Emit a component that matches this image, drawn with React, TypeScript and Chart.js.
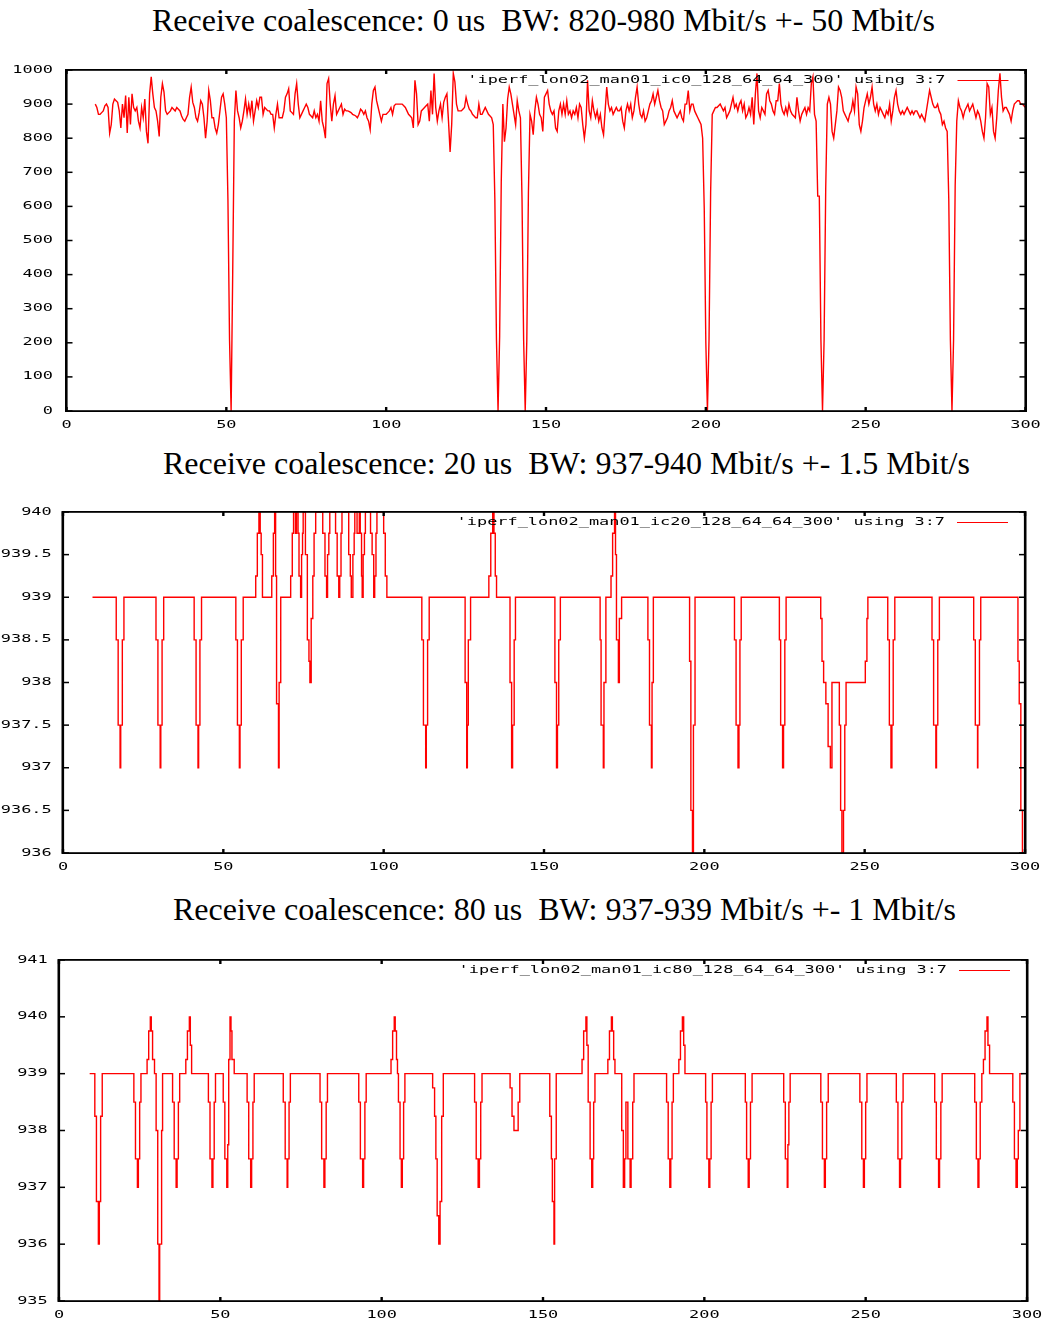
import React, { useEffect, useRef } from 'react';
import { Chart, registerables } from 'chart.js';

Chart.register(...registerables);

// ---------- shared axis ticks ----------
const X_TICKS = [0, 50, 100, 150, 200, 250, 300];
const X_LABELS = ['0', '50', '100', '150', '200', '250', '300'];

// ---------- panel 1: receive coalescence 0 us ----------
const IC0_TITLE = 'Receive coalescence: 0 us  BW: 820-980 Mbit/s +- 50 Mbit/s';
const IC0_LEGEND = "'iperf_lon02_man01_ic0_128_64_64_300' using 3:7";
const IC0_Y_TICKS = [0, 100, 200, 300, 400, 500, 600, 700, 800, 900, 1000];
const IC0_Y_LABELS = ['0', '100', '200', '300', '400', '500', '600', '700', '800', '900', '1000'];
const IC0_START = 9; // first sample time (s)
const IC0_STEP = 0.5; // sample spacing (s)
const IC0_VALUES = [
  900, 890, 870, 870, 875, 880, 895, 900, 890, 815,
  840, 900, 915, 910, 905, 880, 830, 900, 860, 925,
  815, 920, 840, 930, 890, 880, 890, 850, 830, 890,
  860, 915, 820, 785, 930, 980, 930, 890, 880, 850,
  805, 920, 960, 935, 880, 870, 875, 880, 890, 885,
  880, 890, 885, 880, 865, 855, 850, 860, 870, 920,
  950, 905, 890, 860, 850, 875, 910, 900, 860, 800,
  850, 940, 910, 860, 860, 830, 815, 840, 880, 920,
  930, 900, 860, 620, 210, 0, 410, 850, 940, 880,
  860, 830, 850, 880, 915, 870, 900, 870, 910, 850,
  880, 910, 890, 920, 920, 870, 890, 885, 880, 880,
  870, 870, 830, 870, 900, 860, 860, 860, 880, 920,
  930, 945, 880, 875, 870, 930, 960, 900, 860, 870,
  880, 890, 900, 890, 870, 865, 860, 880, 860, 870,
  850, 910, 850, 830, 800, 960, 975, 900, 850, 900,
  925, 870, 880, 890, 900, 870, 885, 880, 880, 878,
  875, 870, 868, 865, 860, 870, 885, 880, 870, 880,
  860, 850, 825, 900, 940, 950, 910, 890, 870, 850,
  870, 870, 870, 875, 880, 890, 870, 895, 900, 900,
  900, 900, 900, 895, 890, 880, 870, 865, 860, 830,
  970, 930, 840, 850, 880, 885, 890, 895, 900, 850,
  940, 870, 990, 890, 850, 880, 900, 860, 905, 920,
  930, 850, 760, 840, 990, 965, 900, 880, 880, 880,
  885, 890, 920, 900, 885, 880, 870, 865, 860, 860,
  900, 870, 870, 880, 890, 880, 870, 865, 860, 840,
  620, 210, 0, 220, 670, 900, 790, 830, 915, 950,
  930, 900, 870, 840, 910, 880, 860, 620, 210, 0,
  210, 640, 870, 850, 810, 880, 920, 900, 870, 860,
  820, 920, 930, 940, 900, 880, 870, 880, 830, 820,
  880, 900, 870, 900, 870, 910, 870, 880, 860, 880,
  870, 890, 860, 900, 890, 840, 800, 840, 970, 880,
  860, 910, 880, 860, 880, 850, 870, 830, 810, 880,
  950, 900, 880, 890, 870, 880, 890, 880, 880, 890,
  850, 830, 880, 900, 880, 900, 860, 880, 920, 950,
  900, 870, 860, 880, 850, 860, 880, 900, 910, 930,
  900, 920, 940, 910, 890, 880, 840, 850, 860, 880,
  890, 910, 880, 870, 860, 870, 880, 860, 850, 900,
  900, 940, 880, 900, 900, 880, 870, 860, 850, 840,
  800, 595, 200, 0, 210, 640, 870, 880, 890, 890,
  895, 900, 890, 880, 890, 860, 870, 880, 900, 920,
  890, 900, 880, 900, 910, 880, 900, 860, 870, 890,
  870, 920, 840, 930, 990, 880, 860, 890, 880, 870,
  930, 940, 910, 900, 880, 870, 910, 910, 960, 900,
  880, 870, 890, 870, 900, 880, 870, 865, 860, 920,
  880, 850, 870, 880, 890, 870, 890, 880, 960, 980,
  870, 850, 630, 630, 210, 0, 210, 650, 900, 920,
  900, 820, 800, 840, 880, 950, 940, 920, 880, 870,
  860, 850, 870, 880, 910, 880, 950, 930, 840, 820,
  850, 890, 910, 930, 900, 920, 950, 900, 880, 900,
  870, 890, 880, 870, 860, 880, 870, 900, 850, 880,
  920, 940, 900, 880, 870, 880, 870, 880, 890, 880,
  870, 880, 870, 880, 880, 870, 860, 870, 860, 850,
  880, 910, 940, 920, 900, 890, 890, 900, 880, 870,
  840, 850, 830, 820, 620, 210, 0, 210, 660, 850,
  910, 890, 880, 860, 880, 890, 900, 880, 890, 900,
  880, 860, 880, 870, 850, 820, 800, 860, 960, 950,
  870, 890, 820, 800, 860, 940, 990, 920, 880, 890,
  890, 880, 870, 850, 880, 900, 905, 910, 910, 900,
  900, 895, 890,
];

// ---------- panel 2: receive coalescence 20 us (value changes at given times) ----------
const IC20_TITLE = 'Receive coalescence: 20 us  BW: 937-940 Mbit/s +- 1.5 Mbit/s';
const IC20_LEGEND = "'iperf_lon02_man01_ic20_128_64_64_300' using 3:7";
const IC20_Y_TICKS = [936, 936.5, 937, 937.5, 938, 938.5, 939, 939.5, 940];
const IC20_Y_LABELS = ['936', '936.5', '937', '937.5', '938', '938.5', '939', '939.5', '940'];
const IC20_TIMES = [
  9.2,
  16.6, 17.2, 17.8, 18.0, 18.5, 19.0,
  29.0, 29.6, 30.3, 30.5, 30.9, 31.4,
  40.9, 41.5, 42.1, 42.3, 42.7, 43.2,
  53.9, 54.4, 55.0, 55.2, 55.6, 56.2,
  60.1, 60.6, 61.1, 61.5, 61.8, 62.2,
  65.1, 65.6, 66.0, 66.3, 66.6, 67.2, 67.4, 67.9,
  71.0, 71.5, 71.9, 72.5, 72.8, 73.3, 73.6, 74.1, 74.4, 74.7, 74.9,
  75.6, 76.2, 76.7, 77.0, 77.4, 77.9, 78.3, 78.8,
  81.0, 81.7, 82.2, 82.5, 82.9, 83.2,
  85.0, 85.5, 86.0, 86.3, 86.7, 87.0,
  89.1, 89.6, 89.9, 90.4, 90.8, 91.0, 91.7, 92.4, 92.7, 93.1, 93.3, 93.6, 94.0, 94.3,
  95.9, 96.4, 96.9, 97.2, 97.6, 97.9,
  100.0, 100.5, 101.0,
  111.9, 112.4, 113.1, 113.3, 113.7, 114.2,
  125.4, 125.9, 126.1, 126.4, 127.1,
  132.8, 133.4, 134.0, 134.4, 134.8, 135.2,
  139.4, 139.9, 140.2, 140.7, 141.1,
  153.4, 153.9, 154.2, 154.6, 155.1,
  167.5, 167.8, 168.5, 168.7, 169.3,
  170.9, 171.4, 172.0, 172.3, 172.6, 173.2, 173.5, 174.2,
  182.4, 182.9, 183.5, 183.7, 184.1,
  195.4, 195.8, 196.3, 196.6, 197.1,
  209.4, 209.9, 210.5, 210.8, 211.1, 211.5,
  223.4, 223.8, 224.4, 224.7, 225.1, 225.5,
  236.3, 236.7, 237.2, 237.9, 238.6, 239.3, 239.8,
  242.1, 242.5, 242.9, 243.4, 243.8, 244.2,
  250.2, 250.7, 251.0,
  257.2, 257.7, 258.2, 258.5, 258.9, 259.4,
  271.0, 271.5, 272.2, 272.4, 272.8, 273.3,
  284.0, 284.5, 285.2, 285.3, 285.8, 286.2,
  297.8, 298.2, 298.7, 299.2,
];
const IC20_VALUES = [
  939,
  938.5, 937.5, 937, 937.5, 938.5, 939,
  938.5, 937.5, 937, 937.5, 938.5, 939,
  938.5, 937.5, 937, 937.5, 938.5, 939,
  938.5, 937.5, 937, 937.5, 938.5, 939,
  939.25, 939.75, 940, 939.75, 939.5, 939,
  939.25, 939.75, 940, 939.25, 937.75, 937, 938, 939,
  939.25, 939.75, 940, 939.75, 940, 939.75, 939.25, 939, 939.5, 939.75, 940,
  939.5, 938.5, 938.25, 938, 938.75, 939.25, 939.75, 940,
  939.75, 939.25, 939, 939.5, 939.75, 940,
  939.75, 939.25, 939, 939.25, 939.75, 940,
  939.5, 939.25, 939, 939.5, 939.75, 940, 939.75, 940, 939.75, 939.25, 939, 939.5, 939.75, 940,
  939.75, 939.5, 939, 939.25, 939.75, 940,
  939.75, 939.25, 939,
  938.5, 937.5, 937, 937.5, 938.5, 939,
  938, 937, 937.5, 938.5, 939,
  939.25, 939.75, 940, 939.75, 939.25, 939,
  938, 937, 937.5, 938.5, 939,
  938, 937, 937.5, 938.5, 939,
  938.5, 937.5, 937, 938, 939,
  939.25, 939.75, 940, 939.5, 938.5, 938, 938.75, 939,
  938.5, 937.5, 937, 938, 939,
  938.25, 936.5, 936, 937.5, 939,
  938.5, 937.5, 937, 937.5, 938.5, 939,
  938.5, 937.5, 937, 937.5, 938.5, 939,
  938.75, 938.25, 938, 937.75, 937.25, 937, 938,
  937.5, 936.5, 936, 936.5, 937.5, 938,
  938.25, 938.75, 939,
  938.5, 937.5, 937, 937.5, 938.5, 939,
  938.5, 937.5, 937, 937.5, 938.5, 939,
  938.5, 937.5, 937, 937.5, 938.5, 939,
  938.25, 937.75, 936.5, 936,
];

// ---------- panel 3: receive coalescence 80 us (value changes at given times) ----------
const IC80_TITLE = 'Receive coalescence: 80 us  BW: 937-939 Mbit/s +- 1 Mbit/s';
const IC80_LEGEND = "'iperf_lon02_man01_ic80_128_64_64_300' using 3:7";
const IC80_Y_TICKS = [935, 936, 937, 938, 939, 940, 941];
const IC80_Y_LABELS = ['935', '936', '937', '938', '939', '940', '941'];
const IC80_TIMES = [
  9.5,
  11.1, 11.6, 12.2, 12.5, 12.9, 13.4,
  23.2, 23.7, 24.3, 24.6, 25.0, 25.4,
  27.3, 27.8, 28.3, 28.6, 29.0, 29.6, 30.1, 30.6, 31.0, 31.2, 31.8, 32.1,
  35.2, 35.7, 36.3, 36.6, 37.0, 37.4,
  39.3, 39.8, 40.4, 40.7, 41.1,
  46.3, 46.8, 47.4, 47.7, 48.1, 48.5,
  50.9, 51.4, 52.0, 52.3, 52.6, 53.0, 53.3, 53.6, 54.3,
  58.3, 58.8, 59.4, 59.7, 60.1, 60.5,
  69.5, 70.1, 70.7, 70.9, 71.3, 71.7,
  80.9, 81.4, 82.1, 82.4, 82.8, 83.2,
  92.9, 93.4, 94.1, 94.4, 94.8, 95.2,
  102.9, 103.4, 103.9, 104.2, 104.6, 104.9, 105.2, 105.7, 106.1, 106.4, 106.8, 107.2,
  115.8, 116.4, 116.8, 117.2, 117.7, 118.1, 118.6, 119.1,
  128.8, 129.3, 129.9, 130.3, 130.7, 131.1,
  139.8, 140.4, 141.0, 142.3, 142.8,
  152.1, 152.6, 152.9, 153.4, 153.6, 154.1,
  162.1, 162.6, 163.3, 163.6, 164.0, 164.6, 165.1, 165.4, 165.7, 166.1,
  170.1, 170.6, 171.2, 171.5, 171.9, 172.3,
  174.4, 174.9, 175.3, 175.7, 176.3, 177.0, 177.3, 177.8, 178.2,
  188.3, 188.8, 189.3, 189.6, 190.0, 190.4,
  192.1, 192.6, 193.2, 193.6, 194.0,
  200.4, 200.8, 201.4, 201.7, 202.1, 202.5,
  212.7, 213.1, 213.6, 213.9, 214.3, 214.8,
  224.6, 225.1, 225.7, 225.9, 226.2, 226.6,
  236.1, 236.6, 237.2, 237.5, 237.9, 238.4,
  248.2, 248.8, 249.3, 249.6, 250.0, 250.4,
  259.5, 260.0, 260.5, 260.8, 261.2, 261.6,
  271.4, 271.9, 272.6, 272.9, 273.3, 273.7,
  283.8, 284.3, 284.8, 285.1, 285.5, 286.0, 286.5, 287.0, 287.6, 287.9, 288.4,
  295.6, 296.1, 296.6, 297.0, 297.3, 297.8, 298.6,
];
const IC80_VALUES = [
  939,
  938.25, 936.75, 936, 936.75, 938.25, 939,
  938.5, 937.5, 937, 937.5, 938.5, 939,
  939.25, 939.75, 940, 939.75, 939.25, 939, 938, 936, 935, 936, 938, 939,
  938.5, 937.5, 937, 937.5, 938.5, 939,
  939.25, 939.75, 940, 939.5, 939,
  938.5, 937.5, 937, 937.5, 938.5, 939,
  938.5, 937.5, 937, 937.75, 939.25, 940, 939.75, 939.25, 939,
  938.5, 937.5, 937, 937.5, 938.5, 939,
  938.5, 937.5, 937, 937.5, 938.5, 939,
  938.5, 937.5, 937, 937.5, 938.5, 939,
  938.5, 937.5, 937, 937.5, 938.5, 939,
  939.25, 939.75, 940, 939.75, 939.25, 939, 938.5, 937.5, 937, 937.5, 938.5, 939,
  938.75, 938.25, 937.5, 936.5, 936, 936.75, 938.25, 939,
  938.5, 937.5, 937, 937.5, 938.5, 939,
  938.75, 938.25, 938, 938.5, 939,
  938.25, 937.5, 936.75, 936, 937.5, 939,
  939.25, 939.75, 940, 939.5, 938.5, 937.5, 937, 937.5, 938.5, 939,
  939.25, 939.75, 940, 939.75, 939.25, 939,
  938, 937, 937.5, 938.5, 937.5, 937, 937.5, 938.5, 939,
  938.5, 937.5, 937, 937.5, 938.5, 939,
  939.25, 939.75, 940, 939.5, 939,
  938.5, 937.5, 937, 937.5, 938.5, 939,
  938.5, 937.5, 937, 937.5, 938.5, 939,
  938.5, 937.5, 937, 937.75, 938.5, 939,
  938.5, 937.5, 937, 937.5, 938.5, 939,
  938.5, 937.5, 937, 937.5, 938.5, 939,
  938.5, 937.5, 937, 937.5, 938.5, 939,
  938.5, 937.5, 937, 937.5, 938.5, 939,
  938.5, 937.5, 937, 937.5, 938.5, 939, 939.25, 939.75, 940, 939.5, 939,
  938.5, 937.5, 937, 937.5, 938, 939, 939,
];

// ---------- drawing helpers ----------
const TICK_FONT = '10px "DejaVu Sans Mono"';
const TICK_STRETCH = 1.69;
const LINE_RED = '#ff0000';

type PanelSpec = {
  title: string;
  legend: string;
  titleLeft: number;
  titleTop: number;
  canvasTop: number;
  canvasHeight: number;
  padding: { left: number; right: number; top: number; bottom: number };
  yMin: number;
  yMax: number;
  yTicks: number[];
  yLabels: string[];
  yLabelGap: number;
  stepped: boolean;
  points: { x: number; y: number }[];
};

function stretchedText(ctx: CanvasRenderingContext2D, text: string, x: number, y: number, align: CanvasTextAlign) {
  ctx.save();
  ctx.translate(x, y);
  ctx.scale(TICK_STRETCH, 1);
  ctx.textAlign = align;
  ctx.textBaseline = 'middle';
  ctx.fillText(text, 0, 0);
  ctx.restore();
}

function makeFramePlugin(spec: PanelSpec) {
  return {
    id: 'gnuplotFrame',
    afterDatasetsDraw(chart: any) {
      const { ctx, chartArea: a, scales } = chart;
      const xs = scales.x;
      const ys = scales.y;
      ctx.save();
      ctx.fillStyle = '#000';
      // inward tick marks on all four sides
      for (const v of spec.yTicks) {
        const py = ys.getPixelForValue(v);
        ctx.fillRect(a.left, py - 0.75, 6, 1.5);
        ctx.fillRect(a.right - 6, py - 0.75, 6, 1.5);
      }
      for (const v of X_TICKS) {
        const px = xs.getPixelForValue(v);
        ctx.fillRect(px - 1.2, a.bottom - 4, 2.4, 4);
        ctx.fillRect(px - 1.2, a.top, 2.4, 4);
      }
      // frame
      ctx.fillRect(a.left - 1.5, a.top - 1, 2.6, a.bottom - a.top + 2);
      ctx.fillRect(a.right - 1.1, a.top - 1, 2.6, a.bottom - a.top + 2);
      ctx.fillRect(a.left, a.top - 1, a.right - a.left, 1.8);
      ctx.fillRect(a.left, a.bottom - 0.8, a.right - a.left, 1.8);
      // tick labels
      ctx.font = TICK_FONT;
      spec.yTicks.forEach((v, i) => {
        stretchedText(ctx, spec.yLabels[i], a.left - spec.yLabelGap, ys.getPixelForValue(v), 'right');
      });
      X_TICKS.forEach((v, i) => {
        stretchedText(ctx, X_LABELS[i], xs.getPixelForValue(v), a.bottom + 14, 'center');
      });
      // key
      const ky = a.top + 10.5;
      stretchedText(ctx, spec.legend, a.right - 80, ky, 'right');
      ctx.strokeStyle = LINE_RED;
      ctx.lineWidth = 1;
      ctx.beginPath();
      ctx.moveTo(a.right - 68, ky);
      ctx.lineTo(a.right - 17, ky);
      ctx.stroke();
      ctx.restore();
    },
  };
}

function Panel({ spec }: { spec: PanelSpec }) {
  const ref = useRef<HTMLCanvasElement | null>(null);
  useEffect(() => {
    if (!ref.current) return;
    const chart = new Chart(ref.current, {
      type: 'line',
      data: {
        datasets: [
          {
            data: spec.points,
            borderColor: LINE_RED,
            borderWidth: 1.4,
            pointRadius: 0,
            fill: false,
            tension: 0,
            stepped: spec.stepped ? 'before' : false,
          } as any,
        ],
      },
      options: {
        animation: false,
        responsive: false,
        devicePixelRatio: 1,
        events: [],
        layout: { padding: spec.padding },
        scales: {
          x: { type: 'linear', display: false, min: 0, max: 300 },
          y: { type: 'linear', display: false, min: spec.yMin, max: spec.yMax },
        },
        plugins: { legend: { display: false }, tooltip: { enabled: false }, title: { display: false } },
      },
      plugins: [makeFramePlugin(spec)],
    });
    return () => chart.destroy();
  }, [spec]);
  return (
    <>
      <div
        style={{
          position: 'absolute',
          left: spec.titleLeft,
          top: spec.titleTop,
          font: '32px "Liberation Serif", "Times New Roman", serif',
          lineHeight: '34px',
          whiteSpace: 'pre',
          color: '#000',
        }}
      >
        {spec.title}
      </div>
      <canvas
        ref={ref}
        width={1046}
        height={spec.canvasHeight}
        style={{ position: 'absolute', left: 0, top: spec.canvasTop, display: 'block' }}
      />
    </>
  );
}

const PANELS: PanelSpec[] = [
  {
    title: IC0_TITLE,
    legend: IC0_LEGEND,
    titleLeft: 152,
    titleTop: 3,
    canvasTop: 45,
    canvasHeight: 400,
    padding: { left: 66.5, right: 20.5, top: 25, bottom: 34 },
    yMin: 0,
    yMax: 1000,
    yTicks: IC0_Y_TICKS,
    yLabels: IC0_Y_LABELS,
    yLabelGap: 13.5,
    stepped: false,
    points: IC0_VALUES.map((v, i) => ({ x: IC0_START + i * IC0_STEP, y: v })),
  },
  {
    title: IC20_TITLE,
    legend: IC20_LEGEND,
    titleLeft: 163,
    titleTop: 446,
    canvasTop: 485,
    canvasHeight: 400,
    padding: { left: 63, right: 21, top: 27, bottom: 32 },
    yMin: 936,
    yMax: 940,
    yTicks: IC20_Y_TICKS,
    yLabels: IC20_Y_LABELS,
    yLabelGap: 11.3,
    stepped: true,
    points: IC20_TIMES.map((t, i) => ({ x: t, y: IC20_VALUES[i] })),
  },
  {
    title: IC80_TITLE,
    legend: IC80_LEGEND,
    titleLeft: 173,
    titleTop: 892,
    canvasTop: 935,
    canvasHeight: 386,
    padding: { left: 59, right: 19, top: 25, bottom: 20 },
    yMin: 935,
    yMax: 941,
    yTicks: IC80_Y_TICKS,
    yLabels: IC80_Y_LABELS,
    yLabelGap: 11.3,
    stepped: true,
    points: IC80_TIMES.map((t, i) => ({ x: t, y: IC80_VALUES[i] })),
  },
];

export default function App() {
  return (
    <div
      style={{
        position: 'absolute',
        left: 0,
        top: 0,
        width: 1046,
        height: 1321,
        background: '#fff',
        overflow: 'hidden',
      }}
    >
      {PANELS.map((p, i) => (
        <Panel key={i} spec={p} />
      ))}
    </div>
  );
}
